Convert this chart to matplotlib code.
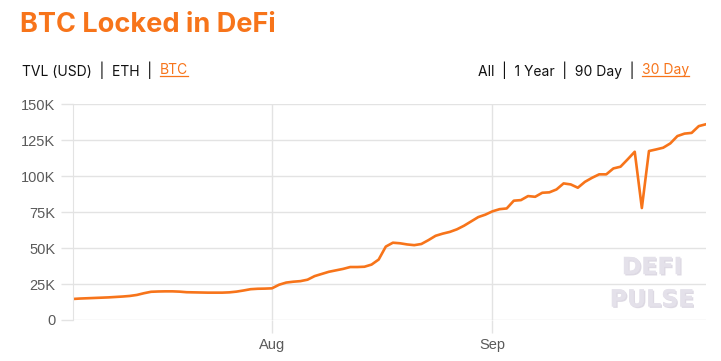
import matplotlib
matplotlib.use('Agg')
import matplotlib.pyplot as plt
import matplotlib.dates as mdates
import matplotlib.patheffects as pe
from matplotlib.ticker import FuncFormatter
import numpy as np
import pandas as pd

# daily BTC locked in DeFi (thousands of BTC)
dates = pd.date_range('2020-07-04', periods=90, freq='D')
btc_k = [14.6, 14.9, 15.1, 15.3, 15.5, 15.7, 16.0, 16.3, 16.7, 17.4,
         18.6, 19.6, 19.8, 19.9, 19.9, 19.7, 19.3, 19.2, 19.1, 19.0,
         19.0, 19.0, 19.2, 19.7, 20.5, 21.4, 21.7, 21.8, 22.0, 24.5,
         26.0, 26.6, 27.0, 28.0, 30.5, 32.0, 33.5, 34.5, 35.5, 36.8,
         36.8, 37.0, 38.5, 42.0, 51.0, 53.7, 53.3, 52.5, 52.0, 52.8,
         55.5, 58.5, 60.0, 61.2, 63.0, 65.5, 68.5, 71.5, 73.2, 75.5,
         77.0, 77.5, 82.9, 83.3, 86.1, 85.6, 88.4, 88.7, 90.7, 94.9,
         94.2, 91.9, 96.0, 98.8, 101.2, 101.2, 105.3, 106.5, 111.6, 116.9,
         77.8, 117.4, 118.5, 119.7, 122.7, 127.8, 129.5, 130.0, 134.7, 136.0]
y_ticks = [0, 25, 50, 75, 100, 125, 150]
x_ticks = ['2020-08-01', '2020-09-01']

orange = '#F7741A'
grid_c = '#E3E3E3'

fig = plt.figure(figsize=(7.21, 3.61), dpi=100)
ax = fig.add_axes([0.101, 0.1136, 0.878, 0.598])

ax.plot(dates, btc_k, color=orange, lw=1.9, solid_joinstyle='round')

ax.set_ylim(0, 150)
ax.set_yticks(y_ticks)
ax.yaxis.set_major_formatter(FuncFormatter(lambda v, p: '0' if v == 0 else '%dK' % v))
ax.set_xlim(dates[0], dates[-1])
ax.set_xticks(pd.to_datetime(x_ticks))
ax.xaxis.set_major_formatter(mdates.DateFormatter('%b'))

ax.grid(True, color=grid_c, lw=1)
for s in ['top', 'right', 'bottom']:
    ax.spines[s].set_visible(False)
ax.spines['left'].set_color(grid_c)
ax.tick_params(axis='both', colors=grid_c, labelcolor='#5a5a5a', labelsize=10.5,
               length=9, width=1)
ax.tick_params(axis='x', pad=4)
for lab in ax.get_xticklabels() + ax.get_yticklabels():
    lab.set_fontfamily('Liberation Sans')

# watermark
for txt, yy in [('DEFI', 0.245), ('PULSE', 0.095)]:
    ax.text(0.915, yy, txt, transform=ax.transAxes, ha='center', va='center',
            fontsize=17, fontweight='bold', family='DejaVu Sans', color='#E4E1EA',
            path_effects=[pe.withSimplePatchShadow(offset=(1, -1), shadow_rgbFace='#CFCAD8', alpha=0.7),
                          pe.Normal()])

# header
fig.text(20 / 721, 1 - 25 / 361, 'BTC Locked in DeFi', fontsize=19.5, fontweight='bold',
         color=orange, family='Inter', va='center', ha='left')

fig.canvas.draw()
rend = fig.canvas.get_renderer()


def text_row(parts, x0, y, align='left'):
    # parts: list of (text, active)
    objs = []
    x = x0
    for t, active in parts:
        o = fig.text(x, y, t, fontsize=10, family='Inter', va='center', ha='left',
                     color=orange if active else '#111111')
        bb = o.get_window_extent(rend)
        x = x + bb.width / fig.bbox.width
        objs.append((o, active))
    if align == 'right':
        shift = x - x0
        for o, _ in objs:
            px, py = o.get_position()
            o.set_position((px - shift, py))
    fig.canvas.draw()
    for o, active in objs:
        if active:
            bb = o.get_window_extent(rend)
            ly = (bb.y0 + 1) / fig.bbox.height
            fig.add_artist(plt.Line2D([bb.x0 / fig.bbox.width, bb.x1 / fig.bbox.width], [ly, ly],
                                      color=orange, lw=0.9, transform=fig.transFigure))


text_row([('TVL (USD)  |  ETH  |  ', False), ('BTC', True)], 22 / 721, 1 - 70 / 361)
text_row([('All  |  1 Year  |  90 Day  |  ', False), ('30 Day', True)], 689 / 721, 1 - 70 / 361,
         align='right')

fig.savefig('out.png', dpi=100)
